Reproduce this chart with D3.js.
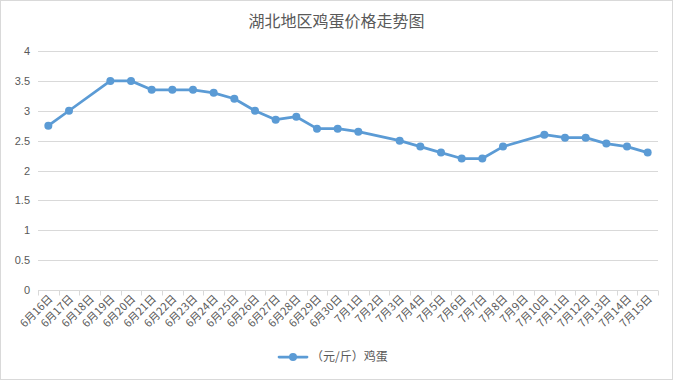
<!DOCTYPE html>
<html><head><meta charset="utf-8">
<script src="https://cdn.jsdelivr.net/npm/d3@7"></script>
<style>body{margin:0;background:#fff;}svg{display:block;font-family:"Noto Sans CJK SC","Noto Sans",sans-serif;}</style>
</head><body><svg id="c" width="673" height="380"></svg>
<script>
const categories = ["6月16日","6月17日","6月18日","6月19日","6月20日","6月21日","6月22日","6月23日","6月24日","6月25日","6月26日","6月27日","6月28日","6月29日","6月30日","7月1日","7月2日","7月3日","7月4日","7月5日","7月6日","7月7日","7月8日","7月9日","7月10日","7月11日","7月12日","7月13日","7月14日","7月15日"];
const prices = [2.75,3.0,null,3.5,3.5,3.35,3.35,3.35,3.3,3.2,3.0,2.85,2.9,2.7,2.7,2.65,null,2.5,2.4,2.3,2.2,2.2,2.4,null,2.6,2.55,2.55,2.45,2.4,2.3];
const yTicks = [0,0.5,1,1.5,2,2.5,3,3.5,4];
const seriesName = "（元/斤）鸡蛋";
const title = "湖北地区鸡蛋价格走势图";

const svg = d3.select("#c");
const W = 673, H = 380;
svg.append("rect").attr("x",0.5).attr("y",0.5).attr("width",W-1).attr("height",H-1).attr("fill","#fff").attr("stroke","#d9d9d9");

const m = {l:38, r:658, t:51, b:290};
const x = d3.scaleBand().domain(categories).range([m.l, m.r]);
const y = d3.scaleLinear().domain([0,4]).range([m.b, m.t]);
const color = "#5b9bd5", textColor = "#595959";

svg.append("text").attr("x", W/2).attr("y", 27).attr("text-anchor","middle")
  .attr("font-size",16).attr("fill",textColor).text(title);

// gridlines
svg.append("g").selectAll("line").data(yTicks.filter(d=>d>0)).join("line")
  .attr("x1",m.l).attr("x2",m.r).attr("y1",d=>Math.round(y(d))+0.5).attr("y2",d=>Math.round(y(d))+0.5)
  .attr("stroke","#d9d9d9").attr("stroke-width",1);

// y axis labels
const yAxis = d3.axisLeft(y).tickValues(yTicks).tickSize(0).tickPadding(8).tickFormat(d3.format("~g"));
const gy = svg.append("g").attr("transform",`translate(${m.l},0)`).call(yAxis);
gy.select(".domain").remove();
gy.selectAll("text").attr("font-size",11).attr("fill",textColor).attr("font-family","\"Liberation Sans\",sans-serif");

// x axis
const gx = svg.append("g").attr("transform",`translate(0,${Math.round(m.b)+0.5})`);
gx.append("line").attr("x1",m.l).attr("x2",m.r).attr("stroke","#d9d9d9");
const bounds = categories.map(c=>x(c)).concat([m.r]);
gx.selectAll("line.tk").data(bounds).join("line").attr("class","tk")
  .attr("x1",d=>Math.round(d)+0.5).attr("x2",d=>Math.round(d)+0.5).attr("y1",0).attr("y2",5).attr("stroke","#d9d9d9");
gx.selectAll("text").data(categories).join("text")
  .attr("transform",d=>`translate(${x(d)+x.bandwidth()/2+5},${9}) rotate(-45)`)
  .attr("text-anchor","end").attr("font-size",11).attr("fill",textColor).text(d=>d);

// line
const pts = categories.map((c,i)=>({c, v:prices[i]})).filter(d=>d.v!=null);
const line = d3.line().x(d=>x(d.c)+x.bandwidth()/2).y(d=>y(d.v));
svg.append("path").datum(pts).attr("d",line).attr("fill","none").attr("stroke",color)
  .attr("stroke-width",2.75).attr("stroke-linejoin","round").attr("stroke-linecap","round");
svg.append("g").selectAll("circle").data(pts).join("circle")
  .attr("cx",d=>x(d.c)+x.bandwidth()/2).attr("cy",d=>y(d.v)).attr("r",4).attr("fill",color);

// legend
const lg = svg.append("g").attr("transform","translate(279,357)");
lg.append("line").attr("x1",0).attr("x2",28).attr("stroke",color).attr("stroke-width",2.75).attr("stroke-linecap","round");
lg.append("circle").attr("cx",14).attr("cy",0).attr("r",4).attr("fill",color);
lg.append("text").attr("x",32).attr("y",4).attr("font-size",12).attr("fill",textColor).text(seriesName);
</script></body></html>
